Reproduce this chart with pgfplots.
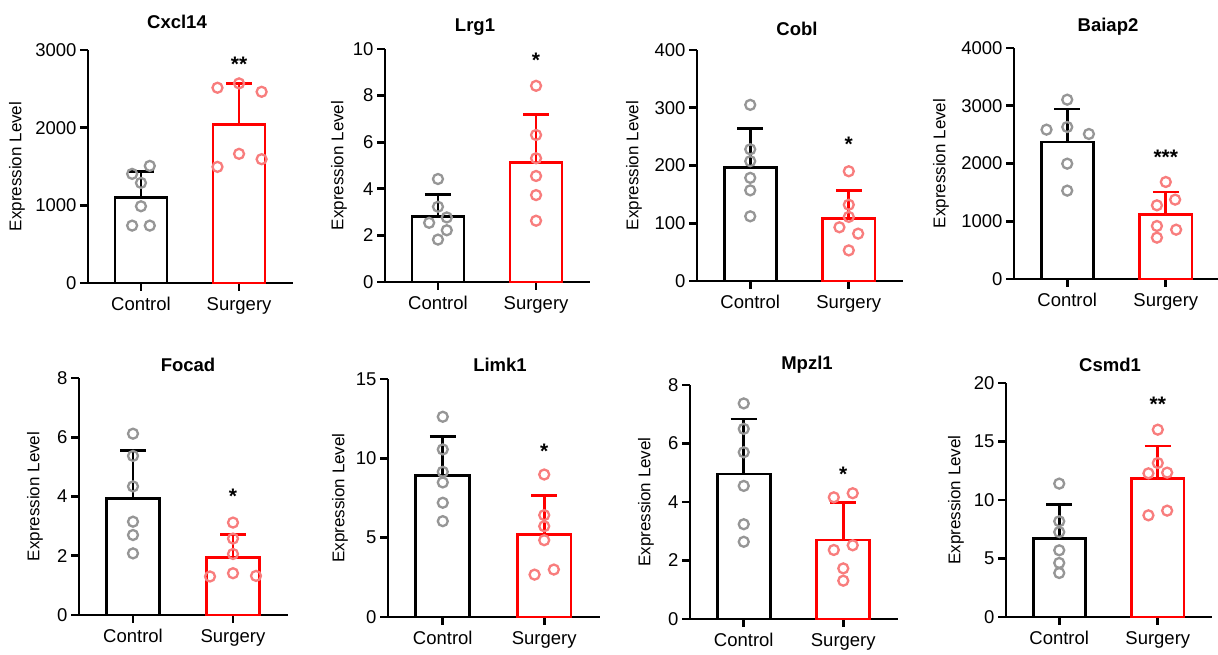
\documentclass[border=0pt]{standalone}
\usepackage{fontspec}
\setmainfont{Liberation Sans}
\usepackage{pgfplots}
\pgfplotsset{compat=1.18}

\definecolor{surg}{RGB}{255,0,0}
\definecolor{ctrldot}{RGB}{150,150,150}
\definecolor{surgdot}{RGB}{248,125,125}

\pgfplotsset{
  panel/.style={
    scale only axis, anchor=south west,
    axis lines=left, axis line style={-, line width=2.8pt},
    xmin=-0.54, xmax=1.55, ymin=0,
    xtick={0,1}, xticklabels={Control,Surgery},
    tick align=outside, major tick length=8pt,
    tick style={black, line width=2.8pt},
    ticklabel style={font=\fontsize{18.5}{22}\selectfont},
    xticklabel style={yshift=-3pt},
    ylabel={Expression Level},
    label style={font=\fontsize{17}{20}\selectfont},
    clip=false, scaled y ticks=false,
    /pgf/number format/1000 sep={},
    /pgf/number format/assume math mode=true,
  },
  bar/.style={
    ybar, bar width=0.53, bar shift=0pt, fill=white, draw=#1, line width=2.8pt,
    error bars/y dir=plus, error bars/y explicit,
    error bars/error bar style={line width=2.8pt, draw=#1},
    error bars/error mark options={rotate=90, line width=2.8pt, draw=#1, mark size=13pt},
  },
  dots/.style={only marks, mark=o, mark size=5pt, color=#1,
    mark options={line width=2.3pt, draw=#1}},
}
\newcommand{\stars}[2]{\node[font=\bfseries\fontsize{21}{24}\selectfont, yshift=-4pt] at (axis cs:1,#1) {#2};}

\begin{document}
\begin{tikzpicture}
\path[use as bounding box] (0,0) rectangle (1218pt,655pt);

% Cxcl14
\begin{axis}[panel, at={(88pt,372pt)}, width=205pt, height=233pt,
  ymax=3000, ytick={0,1000,2000,3000},
  ylabel style={at={(axis description cs:-0.346,0.5)}, anchor=center}]
\addplot[bar=black] coordinates {(0,1096) +- (0,344)};
\addplot[bar=surg] coordinates {(1,2041) +- (0,525)};
\addplot[dots=ctrldot] coordinates {(-0.09,1405) (0.09,1508) (0,1289) (0,988) (-0.09,739) (0.09,739)};
\addplot[dots=surgdot] coordinates {(0.78,2514) (1,2570) (1.23,2462) (0.78,1495) (1,1663) (1.23,1594)};
\stars{2870}{**}
\end{axis}

% Lrg1
\begin{axis}[panel, at={(385pt,373pt)}, width=205pt, height=233pt,
  ymax=10, ytick={0,2,4,6,8,10},
  ylabel style={at={(axis description cs:-0.224,0.5)}, anchor=center}]
\addplot[bar=black] coordinates {(0,2.80) +- (0,0.96)};
\addplot[bar=surg] coordinates {(1,5.12) +- (0,2.08)};
\addplot[dots=ctrldot] coordinates {(0,4.42) (0,3.23) (-0.09,2.54) (0.09,2.77) (0.09,2.22) (0,1.82)};
\addplot[dots=surgdot] coordinates {(1,8.42) (1,6.31) (1,5.31) (1,4.55) (1,3.73) (1,2.63)};
\stars{9.68}{*}
\end{axis}

% Cobl
\begin{axis}[panel, at={(697pt,374pt)}, width=206pt, height=231pt,
  ymax=400, ytick={0,100,200,300,400},
  ylabel style={at={(axis description cs:-0.306,0.5)}, anchor=center}]
\addplot[bar=black] coordinates {(0,196) +- (0,68)};
\addplot[bar=surg] coordinates {(1,108) +- (0,49)};
\addplot[dots=ctrldot] coordinates {(0,305) (0,228) (0,207.5) (0,178.6) (0,157) (0,112)};
\addplot[dots=surgdot] coordinates {(1,190) (1,132) (1,111) (0.905,93) (1.095,82) (1,53)};
\stars{244}{*}
\end{axis}

% Baiap2
\begin{axis}[panel, at={(1014pt,376pt)}, width=206pt, height=231pt,
  ymax=4000, ytick={0,1000,2000,3000,4000},
  ylabel style={at={(axis description cs:-0.354,0.5)}, anchor=center}]
\addplot[bar=black] coordinates {(0,2372) +- (0,572)};
\addplot[bar=surg] coordinates {(1,1120) +- (0,386)};
\addplot[dots=ctrldot] coordinates {(-0.21,2586) (0,3105) (0,2632) (0.22,2511) (0,1997) (0,1530)};
\addplot[dots=surgdot] coordinates {(1,1680) (0.91,1276) (1.095,1374) (0.91,918) (1.105,854) (0.91,716)};
\stars{2170}{***}
\end{axis}

% Focad
\begin{axis}[panel, at={(79pt,40pt)}, width=209pt, height=237pt,
  ymax=8, ytick={0,2,4,6,8},
  ylabel style={at={(axis description cs:-0.211,0.5)}, anchor=center}]
\addplot[bar=black] coordinates {(0,3.92) +- (0,1.63)};
\addplot[bar=surg] coordinates {(1,1.93) +- (0,0.80)};
\addplot[dots=ctrldot] coordinates {(0,6.12) (0,5.37) (0,4.34) (0,3.15) (0,2.70) (0,2.08)};
\addplot[dots=surgdot] coordinates {(1,3.12) (1,2.58) (1,2.06) (0.77,1.30) (1,1.41) (1.23,1.32)};
\stars{4.15}{*}
\end{axis}

% Limk1
\begin{axis}[panel, at={(388pt,38pt)}, width=212pt, height=238pt,
  ymax=15, ytick={0,5,10,15},
  ylabel style={at={(axis description cs:-0.226,0.5)}, anchor=center}]
\addplot[bar=black] coordinates {(0,8.94) +- (0,2.42)};
\addplot[bar=surg] coordinates {(1,5.22) +- (0,2.42)};
\addplot[dots=ctrldot] coordinates {(0,12.62) (0,10.56) (0,9.15) (0,8.48) (0,7.20) (0,6.04)};
\addplot[dots=surgdot] coordinates {(1,8.98) (1,6.42) (1,5.72) (1,4.84) (0.905,2.67) (1.095,2.99)};
\stars{10.69}{*}
\end{axis}

% Mpzl1
\begin{axis}[panel, at={(690pt,36pt)}, width=208pt, height=234pt,
  ymax=8, ytick={0,2,4,6,8},
  ylabel style={at={(axis description cs:-0.212,0.5)}, anchor=center}]
\addplot[bar=black] coordinates {(0,4.96) +- (0,1.88)};
\addplot[bar=surg] coordinates {(1,2.70) +- (0,1.27)};
\addplot[dots=ctrldot] coordinates {(0,7.37) (0,6.50) (0,5.70) (0,4.55) (0,3.24) (0,2.64)};
\addplot[dots=surgdot] coordinates {(0.905,4.16) (1.095,4.30) (0.905,2.36) (1.095,2.52) (1,1.73) (1,1.31)};
\stars{5.09}{*}
\end{axis}

% Csmd1
\begin{axis}[panel, at={(1006pt,38pt)}, width=206pt, height=234pt,
  ymax=20, ytick={0,5,10,15,20},
  ylabel style={at={(axis description cs:-0.243,0.5)}, anchor=center}]
\addplot[bar=black] coordinates {(0,6.72) +- (0,2.88)};
\addplot[bar=surg] coordinates {(1,11.85) +- (0,2.77)};
\addplot[dots=ctrldot] coordinates {(0,11.40) (0,8.18) (0,7.26) (0,5.70) (0,4.62) (0,3.76)};
\addplot[dots=surgdot] coordinates {(1,16.01) (1,13.16) (0.905,12.28) (1.095,12.34) (0.905,8.69) (1.095,9.09)};
\stars{18.49}{**}
\end{axis}

% panel titles
\begin{scope}[every node/.style={font=\bfseries\fontsize{18.5}{22}\selectfont}]
\node at (177pt,633pt) {Cxcl14};
\node at (475pt,628pt) {Lrg1};
\node at (797pt,626pt) {Cobl};
\node at (1108pt,628pt) {Baiap2};
\node at (188pt,290pt) {Focad};
\node at (500pt,290pt) {Limk1};
\node at (807pt,290pt) {Mpzl1};
\node at (1110pt,290pt) {Csmd1};
\end{scope}
\end{tikzpicture}
\end{document}
